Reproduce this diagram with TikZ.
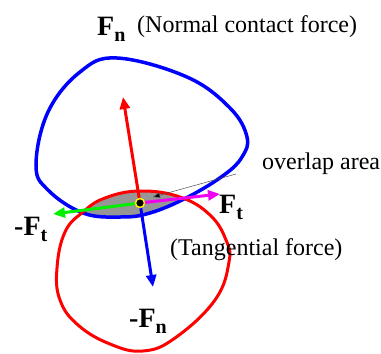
\documentclass[tikz,border=0pt]{standalone}
\usepackage{fontspec}
\setmainfont{Liberation Serif}
\usetikzlibrary{arrows.meta}
\newcommand\myF[1]{\textbf{F}\raisebox{-6pt}{\fontsize{20}{20}\selectfont\textbf{#1}}}
\definecolor{mygreen}{RGB}{0,240,0}
\definecolor{mymag}{RGB}{240,0,240}
\definecolor{mygray}{RGB}{150,150,150}
\begin{document}
\begin{tikzpicture}[x=1pt,y=-1pt,
  lbl/.style={inner sep=0pt, anchor=base west, font=\fontsize{24}{28}\selectfont},
  bigF/.style={inner sep=0pt, anchor=base west, font=\fontsize{28}{30}\selectfont},
  outline/.style={line width=3.5pt},
  force/.style={line width=3pt, -{Triangle[length=12pt,width=10pt]}}]
\useasboundingbox (0,0) rectangle (381,354);
\def\bluepath{plot[smooth cycle, tension=0.65] coordinates {(117,58) (187,77) (230,108) (247,137) (242,157) (224,175) (188,197) (150,213) (120,217) (83,213) (48,190) (36,165) (48,112) (80,72)}}
\def\redpath{plot[smooth cycle, tension=0.7] coordinates {(140,191) (180,197) (210,215) (226,240) (229,262) (215,300) (175,338) (143,351) (110,344) (78,325) (60,300) (57,268) (65,232) (83,212) (105,198)}}
% overlap area
\begin{scope}
  \clip \bluepath;
  \fill[mygray] \redpath;
\end{scope}
\draw[outline, blue] \bluepath;
\draw[outline, red, line width=3pt] \redpath;
% coordinates
\coordinate (c) at (140,203);
\coordinate (up) at (123,97);
\coordinate (down) at (153,287);
\coordinate (left) at (53,214);
\coordinate (right) at (220,194);
\coordinate (ovs) at (236,174);
\coordinate (ove) at (153,197);
% forces
\draw[force, red] (c) -- (up);
\draw[force, blue] (c) -- (down);
\draw[force, mygreen] (c) -- (left);
\draw[force, mymag] (c) -- (right);
\draw[line width=0.5pt, black!70, -{Triangle[length=7pt,width=5pt,fill=black]}] (ovs) -- (ove);
\node[circle, fill=black, draw=yellow, line width=1.5pt, minimum size=9pt, inner sep=0pt] (dot) at (c) {};
% labels
\node[bigF] (fn) at (97,35) {\myF{n}};
\node[lbl] (fnt) at (137,32) {(Normal contact force)};
\node[lbl] (ov) at (262,169) {overlap area};
\node[bigF] (ft) at (219,213) {\myF{t}};
\node[bigF] (mft) at (14,235) {\textbf{-}\myF{t}};
\node[lbl] (tf) at (170,255) {(Tangential force)};
\node[bigF] (mfn) at (129,327) {\textbf{-}\myF{n}};
\end{tikzpicture}
\end{document}
